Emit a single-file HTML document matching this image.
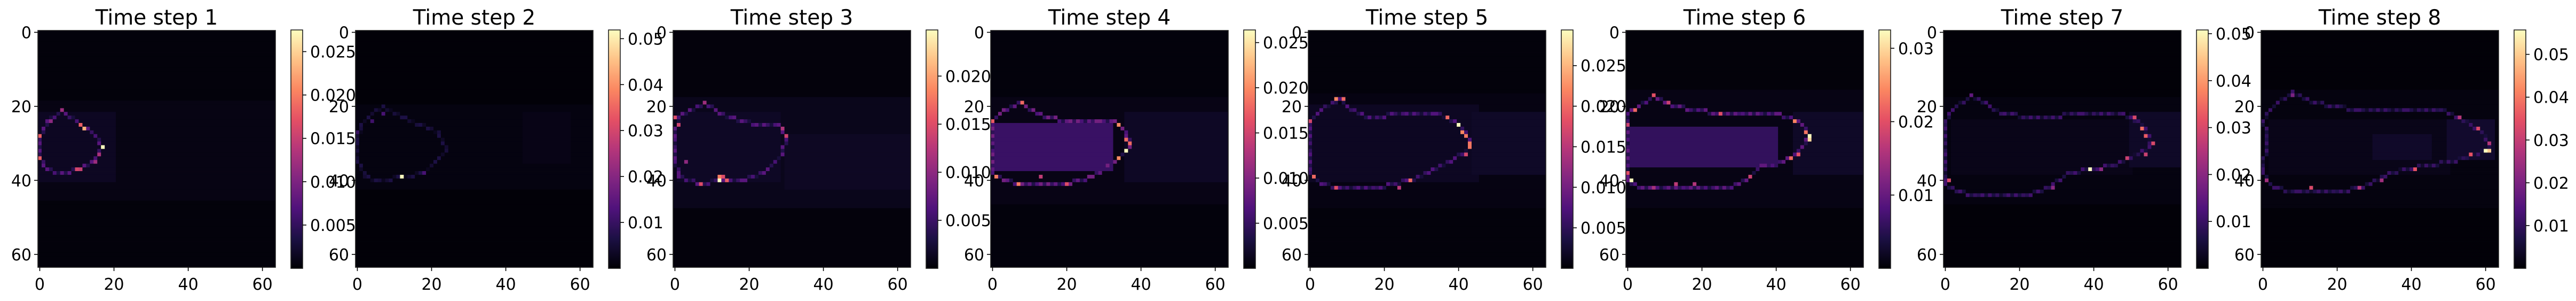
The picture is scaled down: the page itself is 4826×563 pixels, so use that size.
<!DOCTYPE html>
<html><head><meta charset="utf-8">
<style>
html,body{margin:0;padding:0;background:#fff;}
svg{display:block;font-family:"DejaVu Sans","Liberation Sans",sans-serif;}
</style></head>
<body>
<svg id="fig" width="4826" height="563" viewBox="0 0 4826 563" xmlns="http://www.w3.org/2000/svg">
<defs>
<linearGradient id="magma" x1="0" y1="1" x2="0" y2="0">
<stop offset="0" stop-color="#000004"/><stop offset="0.125" stop-color="#1c1044"/><stop offset="0.25" stop-color="#4f127b"/><stop offset="0.375" stop-color="#812581"/><stop offset="0.5" stop-color="#b5367a"/><stop offset="0.625" stop-color="#e55064"/><stop offset="0.75" stop-color="#fb8761"/><stop offset="0.875" stop-color="#fec287"/><stop offset="1" stop-color="#fcfdbf"/>
</linearGradient>
</defs>
</svg>
<script>
// ---- data ----
const titles = ["Time step 1","Time step 2","Time step 3","Time step 4","Time step 5","Time step 6","Time step 7","Time step 8"];
const vmax = [0.0275,0.0519,0.0248,0.0264,0.0294,0.0325,0.0508,0.0557];
const cbTicks = [
 [0.005,0.010,0.015,0.020,0.025],
 [0.01,0.02,0.03,0.04,0.05],
 [0.005,0.010,0.015,0.020],
 [0.005,0.010,0.015,0.020,0.025],
 [0.005,0.010,0.015,0.020,0.025],
 [0.01,0.02,0.03],
 [0.01,0.02,0.03,0.04,0.05],
 [0.01,0.02,0.03,0.04,0.05]
];
const cbLabels = [
 ["0.005","0.010","0.015","0.020","0.025"],
 ["0.01","0.02","0.03","0.04","0.05"],
 ["0.005","0.010","0.015","0.020"],
 ["0.005","0.010","0.015","0.020","0.025"],
 ["0.005","0.010","0.015","0.020","0.025"],
 ["0.01","0.02","0.03"],
 ["0.01","0.02","0.03","0.04","0.05"],
 ["0.01","0.02","0.03","0.04","0.05"]
];
const axTicks = [0,20,40,60];
const axLabels = ["0","20","40","60"];
// blobs: [c0,r0,c1,r1,value]
const blobs1 = [[0,19,63,45,0.0008],[0,22,20,40,0.0016]];
const blobs2 = [[0,20,63,42,0.0012],[45,22,57,35,0.0018]];
const blobs3 = [[0,18,63,47,0.0011],[30,28,63,42,0.0015],[1,22,28,40,0.0016]];
const blobs4 = [[0,18,63,46,0.0009],[36,22,63,40,0.0017],[1,25,32,37,0.0052]];
const blobs5 = [[0,17,63,47,0.0008],[0,20,45,40,0.0017],[44,22,63,38,0.002]];
const blobs6 = [[0,16,63,47,0.001],[45,22,63,38,0.0022],[1,26,40,36,0.0058]];
const blobs7 = [[0,18,63,46,0.0012],[50,22,63,36,0.0035],[2,24,50,38,0.002]];
const blobs8 = [[0,16,63,47,0.0012],[50,24,62,34,0.0045],[30,28,45,34,0.004],[2,24,50,38,0.0022]];
// ring outlines: flat [c,r,...] polylines, plus value
const ring1 = [6,21,2,24,0,28,0,34,2,37,6,38,10,37,14,35,17,31,14,27,11,25,6,21];
const ring2 = [7,20,4,22,1,25,0,29,0,35,2,39,6,40,12,39,18,38,21,35,24,32,22,27,17,25,12,23,7,20];
const ring3 = [8,19,4,21,1,23,0,28,0,35,1,39,7,41,12,40,18,40,24,38,29,33,30,28,28,25,22,25,15,23,11,21,8,19];
const ring4 = [8,19,3,21,0,24,0,38,3,40,8,41,20,41,27,39,31,36,34,34,37,31,36,27,33,24,28,24,20,24,12,22,8,19];
const ring5 = [8,18,3,21,0,24,0,38,3,41,8,42,18,42,27,40,33,37,39,34,43,31,42,27,39,24,34,22,25,22,16,23,11,21,8,18];
const ring6 = [7,17,3,20,0,22,0,40,3,42,15,42,28,42,33,39,36,36,42,35,46,32,49,28,46,24,40,22,30,22,25,22,12,20,7,17];
const ring7 = [7,17,2,21,0,24,0,41,3,43,9,44,22,44,28,42,33,38,39,37,45,36,50,34,55,31,55,28,52,24,47,22,37,22,25,23,15,22,11,19,7,17];
const ring8 = [8,16,4,19,1,22,0,24,1,28,0,38,1,40,3,42,9,43,20,43,26,42,30,40,34,38,38,37,44,36,50,35,54,34,60,32,61,30,59,27,56,25,53,23,48,21,38,21,25,21,14,19,8,16];
const ringVal = [0.0075,0.0065,0.0068,0.009,0.0075,0.0095,0.011,0.011];
// hot cells: [c,r,value]
const hot1 = [[17,31,0.0275],[12,26,0.023],[11,25,0.018],[0,28,0.018],[0,34,0.018],[10,37,0.016],[11,37,0.015],[6,21,0.012],[3,24,0.011],[16,33,0.013],[15,35,0.012]];
const hot2 = [[12,39,0.052],[7,22,0.012],[4,24,0.011],[18,38,0.012],[0,27,0.01]];
const hot3 = [[12,40,0.0248],[12,39,0.018],[13,39,0.015],[14,40,0.016],[7,41,0.015],[0,23,0.015],[1,25,0.014],[30,28,0.014],[29,26,0.012],[8,19,0.011],[3,35,0.01]];
const hot4 = [[36,32,0.0264],[34,34,0.02],[34,25,0.02],[36,29,0.018],[37,30,0.018],[8,19,0.018],[0,24,0.017],[1,39,0.019],[7,41,0.019],[20,41,0.016],[13,39,0.014]];
const hot5 = [[40,25,0.0294],[41,27,0.022],[42,28,0.021],[43,30,0.021],[43,31,0.021],[42,33,0.017],[37,23,0.02],[7,18,0.022],[9,18,0.02],[0,24,0.017],[1,39,0.02],[7,42,0.018],[27,40,0.02],[24,42,0.015]];
const hot6 = [[49,28,0.0325],[49,29,0.03],[48,27,0.023],[45,24,0.024],[46,33,0.02],[44,34,0.022],[1,40,0.0325],[2,21,0.022],[0,25,0.018],[7,17,0.02],[11,19,0.018],[25,22,0.02],[0,38,0.02],[33,39,0.018],[13,41,0.017],[18,41,0.016],[7,42,0.015]];
const hot7 = [[39,37,0.0508],[51,23,0.03],[53,26,0.035],[54,28,0.033],[56,30,0.03],[54,33,0.028],[49,34,0.028],[42,37,0.02],[1,40,0.03],[29,42,0.02],[7,17,0.015]];
const hot8 = [[60,32,0.0557],[61,32,0.05],[56,33,0.035],[58,26,0.033],[61,30,0.028],[41,37,0.035],[13,42,0.033],[26,42,0.028],[1,40,0.025],[32,40,0.025],[53,23,0.028],[8,17,0.02]];
const allBlobs = [blobs1,blobs2,blobs3,blobs4,blobs5,blobs6,blobs7,blobs8];
const allRings = [ring1,ring2,ring3,ring4,ring5,ring6,ring7,ring8];
const allHot = [hot1,hot2,hot3,hot4,hot5,hot6,hot7,hot8];

// ---- rendering ----
const NS = "http://www.w3.org/2000/svg";
const svg = document.getElementById("fig");
const stops = [[0,0,0,4],[0.125,28,16,68],[0.25,79,18,123],[0.375,129,37,129],[0.5,181,54,122],[0.625,229,80,100],[0.75,251,135,97],[0.875,254,194,135],[1,252,253,191]];
function magma(t){
  t=Math.max(0,Math.min(1,t));
  for(let i=1;i<stops.length;i++){
    if(t<=stops[i][0]){
      const a=stops[i-1],b=stops[i],f=(t-a[0])/(b[0]-a[0]);
      return "rgb("+[1,2,3].map(k=>Math.round(a[k]+(b[k]-a[k])*f)).join(",")+")";
    }
  }
  return "rgb(252,253,191)";
}
function el(tag,attrs,parent){
  const e=document.createElementNS(NS,tag);
  for(const k in attrs) e.setAttribute(k,attrs[k]);
  (parent||svg).appendChild(e);
  return e;
}
const AX_T=57, AX_W=445, AX_H=443, N=64;
const ringShade=[1,0.55,0.85,0.4,0.7,1,0.5];
for(let p=0;p<8;p++){
  const L=71+595*p;
  const cw=AX_W/N, ch=AX_H/N;
  const xs=c=>L+c*cw, ys=r=>AX_T+r*ch;
  const g=el("g",{});
  
  
  const grid=Array.from({length:N},()=>new Float32Array(N).fill(0.0004));
  for(const b of allBlobs[p]) for(let r=b[1];r<=b[3];r++) for(let c=b[0];c<=b[2];c++) grid[r][c]=Math.max(grid[r][c],b[4]);
  const ring=allRings[p];
  let k=0;
  for(let i=0;i+3<ring.length;i+=2){
    const c0=ring[i],r0=ring[i+1],c1=ring[i+2],r1=ring[i+3];
    const n=Math.max(Math.abs(c1-c0),Math.abs(r1-r0),1);
    for(let s=0;s<=n;s++){
      const c=Math.round(c0+(c1-c0)*s/n), r=Math.round(r0+(r1-r0)*s/n);
      grid[r][c]=Math.max(grid[r][c],ringVal[p]*ringShade[k%ringShade.length]);
      k++;
    }
  }
  for(const h of allHot[p]) grid[h[1]][h[0]]=h[2];
  const img=el("g",{},g);
  
  
  for(let r=0;r<N;r++){
    let c=0;
    while(c<N){
      const col=magma(grid[r][c]/vmax[p]);
      let e=c+1;
      while(e<N && magma(grid[r][e]/vmax[p])===col) e++;
      el("rect",{x:xs(c).toFixed(2),y:ys(r).toFixed(2),width:(xs(e)-xs(c)+0.4).toFixed(2),height:(ch+0.4).toFixed(2),fill:col},img);
      c=e;
    }
  }
  const frame=el("rect",{x:L,y:AX_T,width:AX_W,height:AX_H,fill:"none",stroke:"#222","stroke-width":1.6},g);
  
  
  for(let i=0;i<axTicks.length;i++){
    const v=axTicks[i];
    const x=xs(v+0.5), y=ys(v+0.5);
    el("line",{x1:x,y1:AX_T+AX_H,x2:x,y2:AX_T+AX_H+7,stroke:"#000","stroke-width":1.6},g);
    const tx=el("text",{x:x,y:542,"font-size":30,"text-anchor":"middle",fill:"#000"},g);
    tx.textContent=axLabels[i];
    
    
    el("line",{x1:L-7,y1:y,x2:L,y2:y,stroke:"#000","stroke-width":1.6},g);
    const ty=el("text",{x:L-12,y:y+11,"font-size":30,"text-anchor":"end",fill:"#000"},g);
    ty.textContent=axLabels[i];
    
    
  }
  const t=el("text",{x:L+AX_W/2,y:46,"font-size":39,"text-anchor":"middle",fill:"#000"},g);
  t.textContent=titles[p];
  
  
  const CB_X=L+474, CB_W=22, CB_T=56, CB_B=502;
  const cb=el("rect",{x:CB_X,y:CB_T,width:CB_W,height:CB_B-CB_T,fill:"url(#magma)",stroke:"#222","stroke-width":1.6},g);
  
  
  const cy=v=>CB_B-(v/vmax[p])*(CB_B-CB_T);
  for(let i=0;i<cbTicks[p].length;i++){
    const y=cy(cbTicks[p][i]);
    el("line",{x1:CB_X+CB_W,y1:y,x2:CB_X+CB_W+7,y2:y,stroke:"#000","stroke-width":1.6},g);
    const lt=el("text",{x:CB_X+CB_W+14,y:y+11,"font-size":30,fill:"#000"},g);
    lt.textContent=cbLabels[p][i];
    
    
  }
}
</script>
</body></html>
